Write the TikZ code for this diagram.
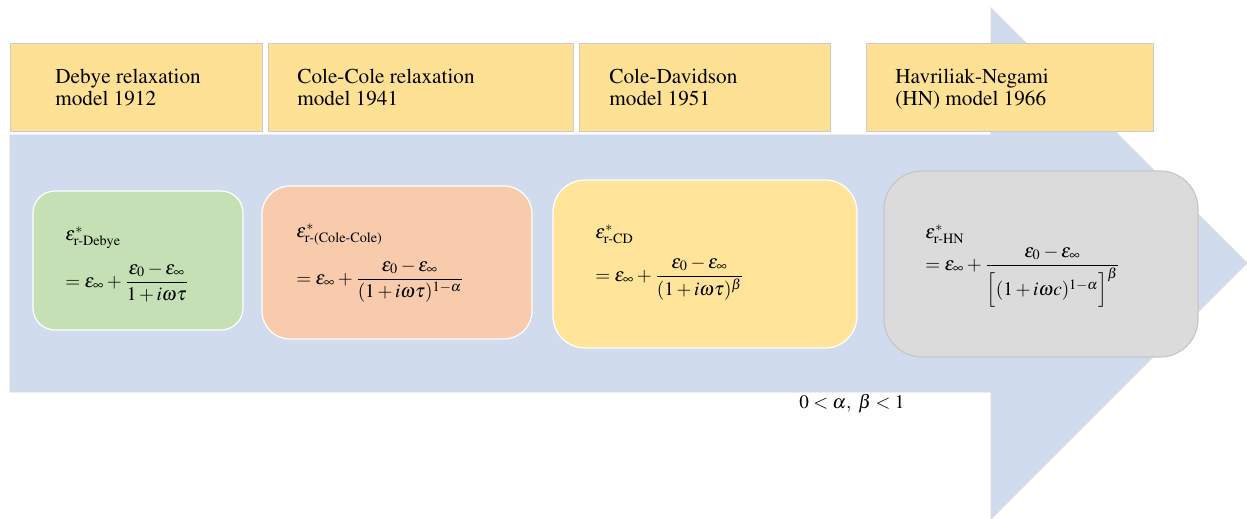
\documentclass[tikz,border=0pt]{standalone}
\usepackage{amsmath}
\usepackage{mathptmx}
\usepackage[no-math]{fontspec}
\setmainfont{Liberation Serif}
\newcommand{\lblfont}{\fontencoding{OT1}\fontfamily{ptm}\selectfont}
\definecolor{arrowblue}{RGB}{208,220,238}
\definecolor{lblyellow}{RGB}{254,225,148}
\definecolor{fgreen}{RGB}{197,224,180}
\definecolor{forange}{RGB}{248,203,173}
\definecolor{fyellow}{RGB}{255,228,153}
\definecolor{fgray}{RGB}{219,219,220}
\newcommand{\subtx}[1]{\text{\lblfont #1}}
\tikzset{
  lblbox/.style={rectangle, fill=lblyellow, draw=black!20, line width=0.5pt, inner sep=0pt, outer sep=0pt, minimum height=44pt},
  lbltext/.style={anchor=base west, align=left, inner sep=0pt, font=\lblfont\fontsize{10.6}{11}\selectfont},
  fbox/.style={rectangle, draw=white, line width=0.6pt, inner sep=0pt, outer sep=0pt},
  ftext/.style={anchor=base west, inner sep=0pt, font=\lblfont\fontsize{9.6}{11}\selectfont},
}
\begin{document}
\begin{tikzpicture}[x=0.5pt, y=-0.5pt]
\useasboundingbox (0,0) rectangle (1247,519);
\fill[white] (0,0) rectangle (1247,519);
% big arrow
\path[fill=arrowblue, draw=black!15, line width=0.4pt]
  (10,135) -- (991,135) -- (991,8) -- (1247,263) -- (991,519) -- (991,392) -- (10,392) -- cycle;
% label boxes
\node[lblbox, minimum width=126pt] (b1) at (136,88) {};
\node[lblbox, minimum width=152.5pt] (b2) at (420.5,88) {};
\node[lblbox, minimum width=125.5pt] (b3) at (704.5,88) {};
\node[lblbox, minimum width=143.5pt] (b4) at (1009.5,88) {};
\node[lbltext] (t1) at (55,105) {Debye relaxation\\model 1912};
\node[lbltext] (t2) at (297,105) {Cole-Cole relaxation\\model 1941};
\node[lbltext] (t3) at (609,105) {Cole-Davidson\\model 1951};
\node[lbltext] (t4) at (895,105) {Havriliak-Negami\\(HN) model 1966};
% formula boxes
\node[fbox, fill=fgreen, rounded corners=11pt, minimum width=105pt, minimum height=69.5pt] (g) at (138,260.5) {};
\node[fbox, fill=forange, rounded corners=14pt, minimum width=135pt, minimum height=76.5pt] (o) at (397,262.5) {};
\node[fbox, fill=fyellow, rounded corners=16pt, minimum width=152pt, minimum height=84pt] (y) at (705,264) {};
\node[fbox, fill=fgray, draw=black!22, rounded corners=19pt, minimum width=157pt, minimum height=93pt] (h) at (1041,264) {};
% formulas
\node[ftext] (g1) at (65,240) {$\varepsilon^{*}_{\subtx{r-Debye}}$};
\node[ftext] (g2) at (65,287) {$\displaystyle =\varepsilon_{\infty}+\frac{\varepsilon_0-\varepsilon_{\infty}}{1+i\omega\tau}$};
\node[ftext] (o1) at (296,237) {$\varepsilon^{*}_{\subtx{r-(Cole-Cole)}}$};
\node[ftext] (o2) at (296,284) {$\displaystyle =\varepsilon_{\infty}+\frac{\varepsilon_0-\varepsilon_{\infty}}{(1+i\omega\tau)^{1-\alpha}}$};
\node[ftext] (y1) at (595,238) {$\varepsilon^{*}_{\subtx{r-CD}}$};
\node[ftext] (y2) at (595,281) {$\displaystyle =\varepsilon_{\infty}+\frac{\varepsilon_0-\varepsilon_{\infty}}{(1+i\omega\tau)^{\beta}}$};
\node[ftext] (h1) at (925,238) {$\varepsilon^{*}_{\subtx{r-HN}}$};
\node[ftext] (h2) at (925,270) {$\displaystyle =\varepsilon_{\infty}+\frac{\varepsilon_0-\varepsilon_{\infty}}{\Bigl[(1+i\omega c)^{1-\alpha}\Bigr]^{\beta}}$};
% condition
\node[ftext] (cond) at (799,408) {$0<\alpha,\ \beta<1$};
\end{tikzpicture}
\end{document}
